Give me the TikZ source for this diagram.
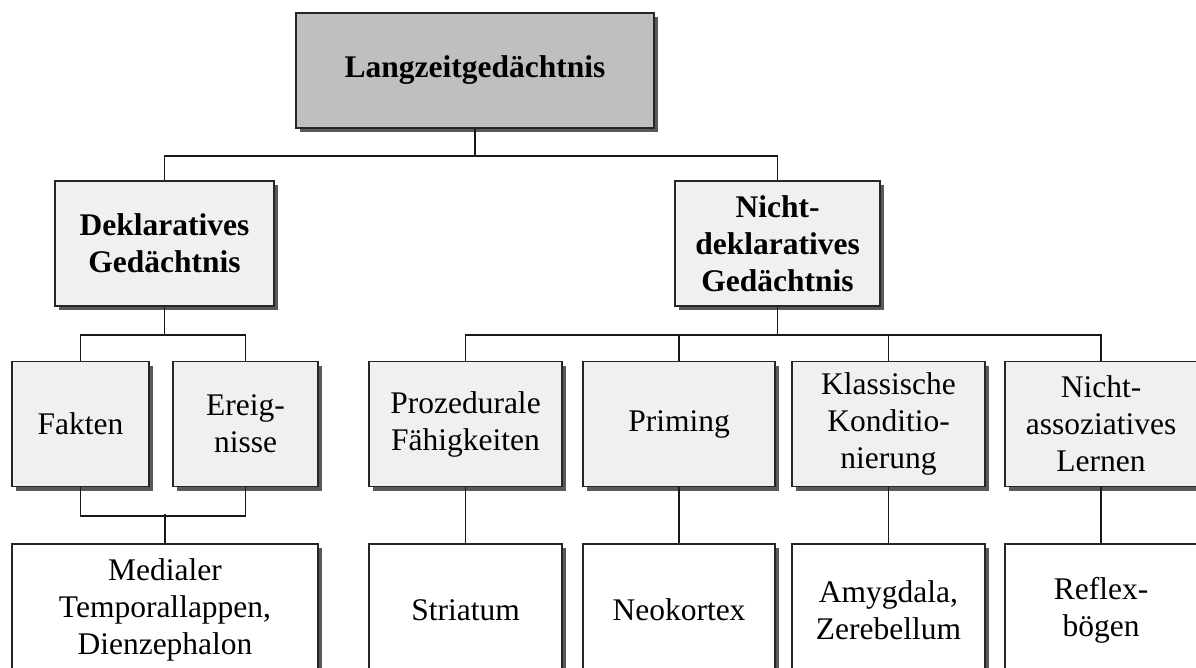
\documentclass[tikz,border=0pt]{standalone}
\usepackage{fontspec}
\setmainfont{Liberation Serif}
\usetikzlibrary{shadows}
\begin{document}
\begin{tikzpicture}[x=1pt,y=-1pt,
  box/.style={draw=black!85, line width=1.6pt, rectangle, align=center,
    inner sep=0pt, font=\fontsize{31.5}{37}\selectfont,
    drop shadow={shadow xshift=4pt, shadow yshift=-4pt, fill=black!65, opacity=1}},
  topbox/.style={box, fill=black!25, font=\fontsize{31.5}{37}\selectfont\bfseries},
  midbox/.style={box, fill=black!6, font=\fontsize{31.5}{37}\selectfont\bfseries},
  catbox/.style={box, fill=black!6, minimum height=125pt},
  regbox/.style={box, fill=white, minimum height=132pt},
  conn/.style={draw=black!90, line width=1.6pt}]
\clip (0,0) rectangle (1196,667);
\useasboundingbox (0,0) rectangle (1196,667);
\fill[white] (0,0) rectangle (1196,667);

\node[topbox, minimum width=358pt, minimum height=115pt] (top) at (475,70.5) {Langzeitgedächtnis};
\node[midbox, minimum width=219pt, minimum height=125pt] (dekl) at (164.5,243.5) {Deklaratives\\Gedächtnis};
\node[midbox, minimum width=205pt, minimum height=125pt] (nd) at (777.5,243.5) {Nicht-\\deklaratives\\Gedächtnis};

\node[catbox, minimum width=137pt] (fak) at (80.5,424) {Fakten};
\node[catbox, minimum width=145pt] (ereig) at (245.5,424) {Ereig-\\nisse};
\node[catbox, minimum width=193pt] (proz) at (465.5,424) {Prozedurale\\Fähigkeiten};
\node[catbox, minimum width=192pt] (prim) at (679,424) {Priming};
\node[catbox, minimum width=193pt] (klass) at (888.5,424) {Klassische\\Konditio-\\nierung};
\node[catbox, minimum width=192pt] (nass) at (1101,424) {Nicht-\\assoziatives\\Lernen};

\node[regbox, minimum width=306pt] (med) at (165,610) {Medialer\\Temporallappen,\\Dienzephalon};
\node[regbox, minimum width=193pt] (stri) at (465.5,610) {Striatum};
\node[regbox, minimum width=192pt] (neo) at (679,610) {Neokortex};
\node[regbox, minimum width=193pt] (amy) at (888.5,610) {Amygdala,\\Zerebellum};
\node[regbox, minimum width=192pt] (refl) at (1101,610) {Reflex-\\bögen};

\draw[conn] (top.south) -- ++(0,27) coordinate (tj) -| (dekl.north);
\draw[conn] (tj) -| (nd.north);

\draw[conn] (dekl.south) -- ++(0,28) coordinate (dj) -| (fak.north);
\draw[conn] (dj) -| (ereig.north);

\draw[conn] (nd.south) -- ++(0,28) coordinate (nj) -| (proz.north);
\draw[conn] (nj) -| (prim.north);
\draw[conn] (nj) -| (klass.north);
\draw[conn] (nj) -| (nass.north);

\draw[conn] (fak.south) -- ++(0,28.5) -| (ereig.south);
\draw[conn] (med.north) -- ++(0,-29);

\draw[conn] (proz.south) -- (stri.north);
\draw[conn] (prim.south) -- (neo.north);
\draw[conn] (klass.south) -- (amy.north);
\draw[conn] (nass.south) -- (refl.north);
\end{tikzpicture}
\end{document}
